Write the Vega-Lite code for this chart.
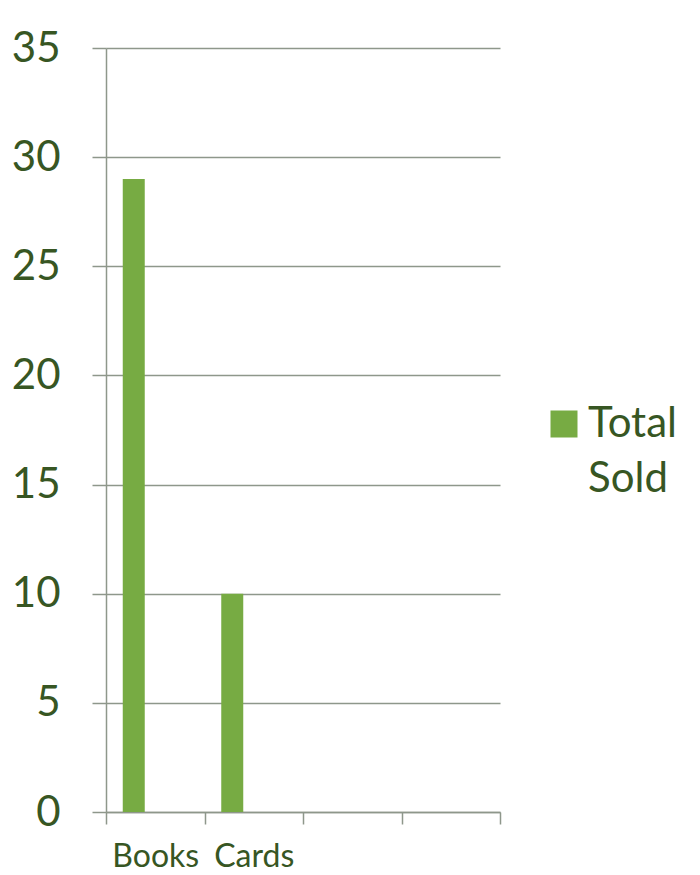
{
  "$schema": "https://vega.github.io/schema/vega-lite/v6.json",
  "width": 394,
  "height": 764,
  "autosize": {"type": "none"},
  "padding": {"left": 106, "top": 48, "right": 200, "bottom": 63},
  "background": "white",
  "data": {
    "values": [
      {"category": "Books", "series": "Total Sold", "value": 29},
      {"category": "Cards", "series": "Total Sold", "value": 10}
    ]
  },
  "mark": {"type": "bar", "width": 22, "xOffset": -21.5},
  "encoding": {
    "x": {
      "field": "category",
      "type": "nominal",
      "sort": null,
      "scale": {"domain": ["Books", "Cards", "c3", "c4"], "paddingInner": 0, "paddingOuter": 0},
      "axis": {
        "title": null,
        "labelAngle": 0,
        "labelExpr": "datum.value == 'c3' || datum.value == 'c4' ? '' : datum.value",
        "tickBand": "extent",
        "tickSize": 12,
        "tickColor": "#8e978b",
        "tickWidth": 1.5,
        "domainColor": "#8e978b",
        "domainWidth": 1.5,
        "labelFont": "Lato",
        "labelFontSize": 32,
        "labelColor": "#375623",
        "labelPadding": 17,
        "grid": false
      }
    },
    "y": {
      "field": "value",
      "type": "quantitative",
      "scale": {"domain": [0, 35], "nice": false},
      "axis": {
        "title": null,
        "values": [0, 5, 10, 15, 20, 25, 30, 35],
        "grid": true,
        "gridColor": "#8e978b",
        "gridWidth": 1.5,
        "tickColor": "#8e978b",
        "tickWidth": 1.5,
        "tickSize": 14,
        "domainColor": "#8e978b",
        "domainWidth": 1.5,
        "labelFont": "Lato",
        "labelFontSize": 42,
        "labelColor": "#375623",
        "labelPadding": 32
      }
    },
    "color": {
      "field": "series",
      "type": "nominal",
      "scale": {"range": ["#77ab43"]},
      "legend": {
        "title": null,
        "orient": "none",
        "legendX": 437,
        "legendY": 355,
        "padding": 0,
        "symbolType": "square",
        "symbolSize": 729,
        "symbolStrokeWidth": 0,
        "labelFont": "Lato",
        "labelFontSize": 42,
        "labelColor": "#375623",
        "labelOffset": 3,
        "labelLimit": 0,
        "labelExpr": "split(datum.label, ' ')",
        "encode": {"labels": {"update": {"lineHeight": {"value": 55}}}}
      }
    }
  },
  "config": {"view": {"stroke": null}}
}
